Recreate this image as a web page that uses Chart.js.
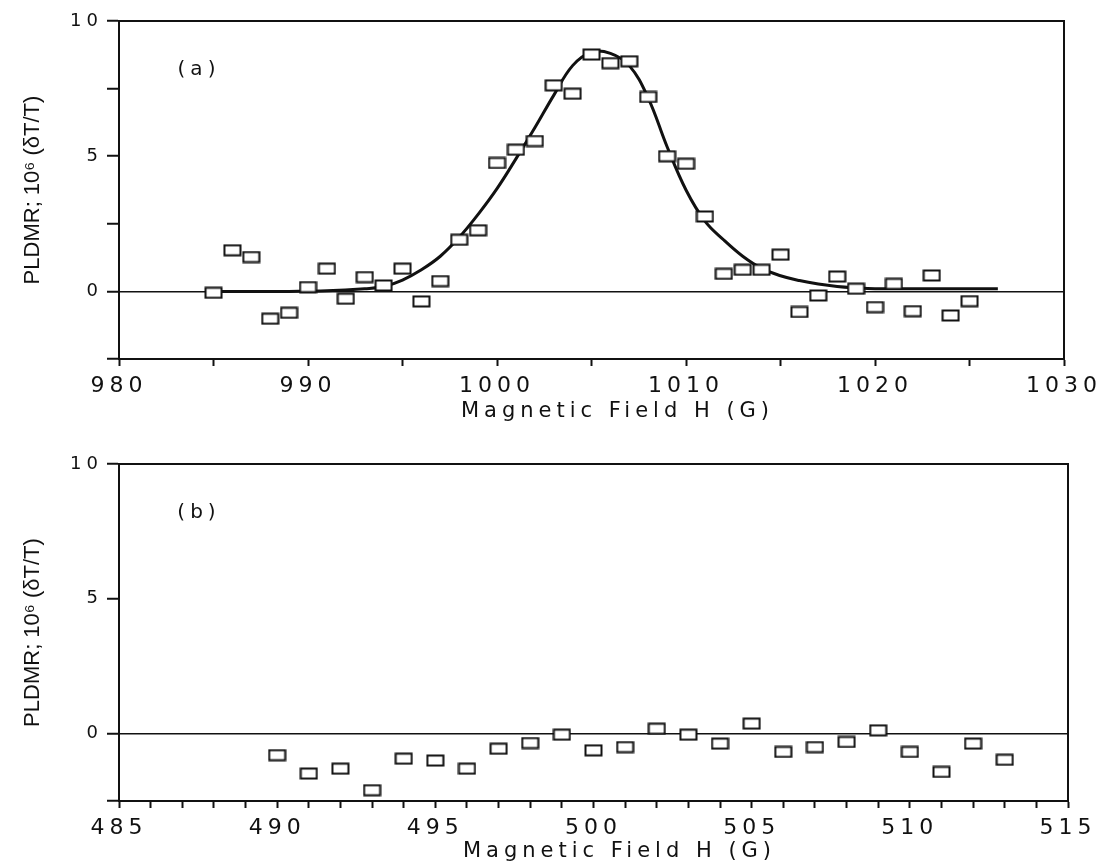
<!DOCTYPE html>
<html>
<head>
<meta charset="utf-8">
<script src="https://cdn.jsdelivr.net/npm/chart.js@4.4.1/dist/chart.umd.min.js"></script>
<style>
  body { margin: 0; background: #fff; }
  .panel { position: absolute; left: 0; }
  #panelA { top: 0; }
  #panelB { top: 430px; }
</style>
</head>
<body>
<canvas id="panelA" class="panel" width="1109" height="430"></canvas>
<canvas id="panelB" class="panel" width="1109" height="434"></canvas>
<script>
// panel (a): measured points around 1005 G
const fieldA = [985, 986, 987, 988, 989, 990, 991, 992, 993, 994, 995, 996, 997, 998, 999,
  1000, 1001, 1002, 1003, 1004, 1005, 1006, 1007, 1008, 1009, 1010, 1011, 1012, 1013, 1014,
  1015, 1016, 1017, 1018, 1019, 1020, 1021, 1022, 1023, 1024, 1025];
const pldmrA = [-0.05, 1.52, 1.27, -1.01, -0.79, 0.16, 0.84, -0.27, 0.53, 0.22, 0.84, -0.37, 0.38, 1.91, 2.26,
  4.75, 5.24, 5.56, 7.62, 7.31, 8.76, 8.44, 8.51, 7.19, 5.0, 4.72, 2.77, 0.65, 0.8, 0.8,
  1.36, -0.76, -0.15, 0.55, 0.1, -0.58, 0.28, -0.73, 0.59, -0.89, -0.36];

// panel (a): fitted curve
const fitFieldA = [985, 987, 989, 991, 993, 994, 995, 996, 997, 998, 999, 1000, 1001, 1002, 1003,
  1004, 1005, 1006, 1007, 1008, 1009, 1010, 1011, 1012, 1013, 1014, 1015, 1016, 1017, 1018,
  1019, 1020, 1022, 1024, 1026.5];
const fitA = [0, 0, 0, 0.02, 0.1, 0.18, 0.42, 0.8, 1.3, 2.0, 2.85, 3.8, 4.9, 6.05, 7.25,
  8.35, 8.85, 8.8, 8.35, 7.15, 5.35, 3.75, 2.6, 1.9, 1.3, 0.85, 0.58, 0.4, 0.27, 0.18,
  0.13, 0.1, 0.1, 0.1, 0.1];

// panel (b): measured points around 500 G
const fieldB = [490, 491, 492, 493, 494, 495, 496, 497, 498, 499, 500, 501,
  502, 503, 504, 505, 506, 507, 508, 509, 510, 511, 512, 513];
const pldmrB = [-0.8, -1.48, -1.3, -2.1, -0.93, -1.0, -1.3, -0.56, -0.35, -0.04, -0.62, -0.5,
  0.18, -0.04, -0.37, 0.37, -0.68, -0.5, -0.31, 0.12, -0.68, -1.42, -0.37, -0.97];

const panelLabels = ['(a)', '(b)'];
const xTitle = 'Magnetic Field H (G)';
const yTitle = 'PLDMR; 10\u2076 (\u03B4T/T)';

const tickFont = '"DejaVu Sans", Verdana, sans-serif';

function toPoints(xs, ys) {
  return xs.map((x, i) => ({ x: x, y: ys[i] }));
}

// open box marker, wider than tall
function boxMarker() {
  const c = document.createElement('canvas');
  c.width = 19;
  c.height = 13;
  const g = c.getContext('2d');
  g.fillStyle = '#fff';
  g.fillRect(1, 1, 17, 11);
  g.lineWidth = 2;
  g.strokeStyle = '#111';
  g.strokeRect(1.5, 1.5, 16, 10);
  return c;
}
const marker = boxMarker();

// wide plotter-style lettering for ticks and x title, plain for y title
const spacedText = {
  id: 'spacedText',
  beforeLayout(chart) {
    chart.ctx.letterSpacing = '5px';
  },
  beforeDraw(chart) {
    chart.ctx.letterSpacing = '5px';
    const ys = chart.scales.y;
    if (!ys.$plain) {
      const draw = ys.drawTitle;
      ys.drawTitle = function () {
        this.ctx.save();
        this.ctx.letterSpacing = '0px';
        draw.call(this);
        this.ctx.restore();
      };
      ys.$plain = true;
    }
    const xs = chart.scales.x;
    if (!xs.$shifted) {
      const draw = xs.drawTitle;
      xs.drawTitle = function () {
        this.ctx.save();
        this.ctx.translate(26, 0);
        draw.call(this);
        this.ctx.restore();
      };
      xs.$shifted = true;
    }
  }
};

// box round the plot area plus the panel letter
const frame = {
  id: 'frame',
  afterDatasetsDraw(chart, args, opts) {
    const { ctx, chartArea: a } = chart;
    ctx.save();
    ctx.lineWidth = 2;
    ctx.strokeStyle = '#111';
    ctx.strokeRect(a.left, a.top, a.right - a.left, a.bottom - a.top);
    ctx.letterSpacing = '5px';
    ctx.fillStyle = '#111';
    ctx.font = '20px ' + tickFont;
    ctx.textAlign = 'center';
    ctx.textBaseline = 'middle';
    ctx.fillText(opts.label, a.left + 80, a.top + 49);
    ctx.restore();
  }
};

function makePanel(canvasId, cfg) {
  const ctx = document.getElementById(canvasId).getContext('2d');
  const datasets = [{
    label: 'measured',
    data: cfg.points,
    pointStyle: marker,
    pointRadius: 8,
    showLine: false,
    order: 0
  }];
  if (cfg.fit) {
    datasets.push({
      label: 'fit',
      data: cfg.fit,
      showLine: true,
      pointRadius: 0,
      borderColor: '#111',
      borderWidth: 3,
      tension: 0.4,
      order: 1
    });
  }
  return new Chart(ctx, {
    type: 'scatter',
    data: { datasets: datasets },
    plugins: [spacedText, frame],
    options: {
      responsive: false,
      animation: false,
      layout: { padding: cfg.padding },
      scales: {
        x: {
          min: cfg.xMin,
          max: cfg.xMax,
          afterFit: s => { s.height = cfg.xHeight; },
          border: { color: '#111', width: 2 },
          grid: { drawOnChartArea: false, tickLength: 7, tickColor: '#111', tickWidth: 2 },
          ticks: {
            stepSize: cfg.xStep,
            autoSkip: false,
            maxRotation: 0,
            padding: 7,
            color: '#111',
            font: { family: tickFont, size: 22 },
            callback: v => (v % cfg.xLabelEvery === 0 ? String(v) : '')
          },
          title: {
            display: true,
            text: xTitle,
            color: '#111',
            padding: { top: 0, bottom: cfg.xTitlePad },
            font: { family: tickFont, size: 21 }
          }
        },
        y: {
          min: -2.5,
          max: 10,
          afterFit: s => { s.width = 119; },
          border: { color: '#111', width: 2 },
          grid: {
            drawOnChartArea: true,
            color: c => (c.tick && c.tick.value === 0 ? '#111' : 'rgba(0,0,0,0)'),
            lineWidth: 1.5,
            tickLength: 12,
            tickColor: '#111',
            tickWidth: 2
          },
          ticks: {
            stepSize: cfg.yStep,
            padding: 4,
            color: '#111',
            font: { family: tickFont, size: 18 },
            callback: v => ([0, 5, 10].includes(v) ? String(v) : '')
          },
          title: {
            display: true,
            text: yTitle,
            color: '#111',
            padding: { top: 20, bottom: 0 },
            font: { family: '"Liberation Sans Narrow", "Liberation Sans", Arial, sans-serif', size: 22 }
          }
        }
      },
      plugins: {
        legend: { display: false },
        tooltip: { enabled: false },
        frame: { label: cfg.label }
      }
    }
  });
}

makePanel('panelA', {
  points: toPoints(fieldA, pldmrA),
  fit: toPoints(fitFieldA, fitA),
  xMin: 980, xMax: 1030, xStep: 5, xLabelEvery: 10,
  yStep: 2.5,
  padding: { top: 21, right: 42, bottom: 0, left: 0 },
  xHeight: 71, xTitlePad: 6,
  label: panelLabels[0]
});

makePanel('panelB', {
  points: toPoints(fieldB, pldmrB),
  fit: null,
  xMin: 485, xMax: 515, xStep: 1, xLabelEvery: 5,
  yStep: 5,
  padding: { top: 34, right: 41, bottom: 0, left: 0 },
  xHeight: 63, xTitlePad: 0,
  label: panelLabels[1]
});
</script>
</body>
</html>
